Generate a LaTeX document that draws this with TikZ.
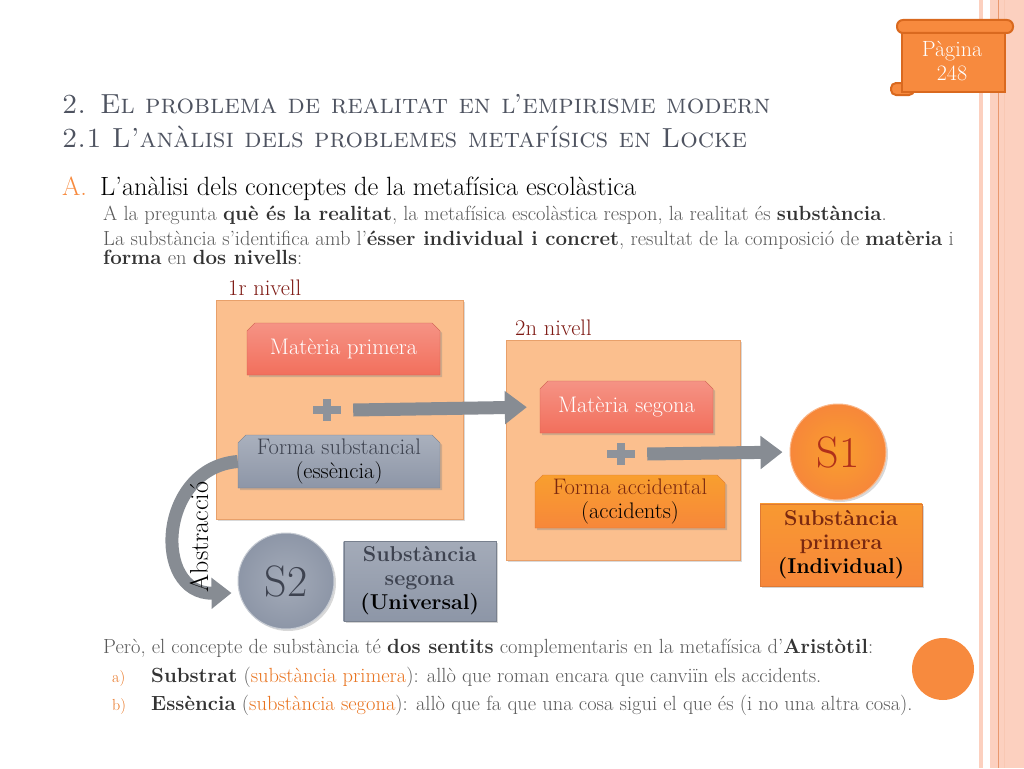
\documentclass[tikz,border=0pt]{standalone}
\usepackage{tikz}
\usetikzlibrary{positioning, shapes.misc, shadows, arrows.meta}

\definecolor{accent}{HTML}{F78A3E}
\definecolor{scrolledge}{HTML}{D9691F}
\definecolor{titlegray}{HTML}{4E5360}
\definecolor{bodygray}{HTML}{595959}
\definecolor{darktext}{HTML}{333333}
\definecolor{accenttext}{HTML}{E8731F}
\definecolor{peach}{HTML}{FBBF8E}
\definecolor{peachedge}{HTML}{E8A06A}
\definecolor{coral}{HTML}{F26F5C}
\definecolor{slate}{HTML}{8D96A7}
\definecolor{slatetext}{HTML}{3E4350}
\definecolor{orangebox}{HTML}{F7873A}
\definecolor{rust}{HTML}{7A2810}
\definecolor{sonetext}{HTML}{B0301A}
\definecolor{crossgray}{HTML}{8E939B}
\definecolor{arrowgray}{HTML}{878C93}
\definecolor{levelred}{HTML}{7E1A14}
\definecolor{stripe}{HTML}{FCD0BF}
\definecolor{stripeline}{HTML}{E9986E}

\newcommand{\fsz}[2]{\fontsize{#1}{#2}\selectfont}
\newcommand{\emb}[1]{{\bfseries\color{darktext}#1}}

\tikzset{
  scroll/.style={fill=accent, draw=scrolledge, line width=2pt},
  pagetext/.style={text=white, align=center, font=\fsz{22}{24}},
  titletext/.style={text=titlegray, inner sep=0pt, font=\fsz{27.6}{32}\scshape},
  headtext/.style={text=black, inner sep=0pt, font=\fsz{26.4}{28}},
  bodytext/.style={text=bodygray, inner sep=0pt, font=\fsz{20.5}{22}},
  listmark/.style={text=accenttext, inner sep=0pt, font=\fsz{16}{18}},
  levelbox/.style={rectangle, fill=peach, draw=peachedge, line width=0.6pt,
    drop shadow={shadow xshift=2pt, shadow yshift=-2pt, opacity=0.3}},
  levellabel/.style={text=levelred, inner sep=0pt, font=\fsz{22.5}{24}},
  chambox/.style={chamfered rectangle, chamfered rectangle corners={north west, north east},
    chamfered rectangle xsep=5pt, inner sep=0pt, align=center, font=\fsz{22.5}{24},
    drop shadow={shadow xshift=2pt, shadow yshift=-2pt, opacity=0.35}},
  materia/.style={chambox, top color=coral!75!white, bottom color=coral, draw=coral!85!black, text=white},
  formasub/.style={chambox, top color=slate!75!white, bottom color=slate, draw=slate!85!black, text=slatetext},
  formaacc/.style={chambox, top color=orangebox!80!yellow, bottom color=orangebox, draw=orangebox!90!black, text=rust},
  plussign/.style={minimum width=28pt, minimum height=22pt, inner sep=0pt, path picture={
    \fill[crossgray] ([xshift=-14pt,yshift=-4pt]path picture bounding box.center) rectangle ([xshift=14pt,yshift=4pt]path picture bounding box.center);
    \fill[crossgray] ([xshift=-4pt,yshift=-11pt]path picture bounding box.center) rectangle ([xshift=4pt,yshift=11pt]path picture bounding box.center);}},
  fatarrow/.style={draw=arrowgray, line width=13pt, -{Triangle[length=22pt, width=32pt]}},
  curvearrow/.style={draw=arrowgray, line width=13pt, -{Triangle[length=20pt, width=30pt]}},
  abstext/.style={text=black, inner sep=0pt, font=\fsz{26}{28}},
  sone/.style={circle, minimum size=96pt, inner sep=0pt, inner color=orangebox!80!yellow, outer color=orangebox,
    draw=orangebox!60!white, line width=1pt, text=sonetext, font=\fsz{44}{46},
    drop shadow={shadow xshift=2pt, shadow yshift=-2pt, opacity=0.3}},
  stwo/.style={circle, minimum size=96pt, inner sep=0pt, inner color=slate!80!white, outer color=slate,
    draw=slate!50!white, line width=1pt, text=slatetext, font=\fsz{44}{46},
    drop shadow={shadow xshift=2pt, shadow yshift=-2pt, opacity=0.3}},
  subsbox/.style={rectangle, inner sep=0pt, align=center, font=\fsz{21.5}{24}\bfseries,
    drop shadow={shadow xshift=2pt, shadow yshift=-2pt, opacity=0.35}},
  dotcircle/.style={circle, fill=accent, minimum size=62pt, inner sep=0pt}
}

\begin{document}
\begin{tikzpicture}[x=1pt, y=-1pt]
\useasboundingbox (0,0) rectangle (1024,768);

% right margin stripes
\fill[stripe] (979,0) rectangle (983,768);
\fill[stripe] (990,0) rectangle (1024,768);
\draw[stripeline, line width=1.5pt] (998.5,0) -- (998.5,768);
\draw[stripe!85!stripeline, line width=0.8pt] (1004,0) -- (1004,768);

% page scroll
\draw[scroll, rounded corners=5pt] (891,83) rectangle (914,95);
\draw[scroll] (902,27) rectangle (1005,92);
\draw[scroll, rounded corners=6pt] (897,20) rectangle (1013,33);
\node[pagetext] (page) at (952,61) {Pàgina\\248};

% title
\node[titletext, anchor=base west] (title1) at (62,113) {2. El problema de realitat en l’empirisme modern};
\node[titletext, anchor=base west] (title2) at (62,147) {2.1 L'anàlisi dels problemes metafísics en Locke};

% text above the diagram
\node[headtext, text=accent, anchor=base west] (markA) at (62,195) {A.};
\node[headtext, anchor=base west] (head) at (100,195) {L’anàlisi dels conceptes de la metafísica escolàstica};
\node[bodytext, anchor=base west] (line1) at (103,220) {A la pregunta \emb{què és la realitat}, la metafísica escolàstica respon, la realitat és \emb{substància}.};
\node[bodytext, anchor=base west] (line2) at (103,245) {La substància s’identifica amb l’\emb{ésser individual i concret}, resultat de la composició de \emb{matèria} i};
\node[bodytext, anchor=base west] (line3) at (103,264) {\emb{forma} en \emb{dos nivells}:};

% first level
\node[levelbox, minimum width=247pt, minimum height=219pt] (lvl1) at (339.5,409.5) {};
\node[levellabel, anchor=base west] (lab1) at (228,295) {1r nivell};
\node[materia, minimum width=193pt, minimum height=52pt] (mp) at (343.5,349) {Matèria primera};
\node[plussign] (p1) at (327,410) {};
\node[formasub, minimum width=202pt, minimum height=53pt] (fs) at (339,461.5) {Forma substancial\\{\color{black}(essència)}};

% second level
\node[levelbox, minimum width=234pt, minimum height=220pt] (lvl2) at (623,450) {};
\node[levellabel, anchor=base west] (lab2) at (515,335) {2n nivell};
\node[materia, minimum width=173pt, minimum height=52pt] (ms) at (626.5,407) {Matèria segona};
\node[plussign] (p2) at (621,454) {};
\node[formaacc, minimum width=190pt, minimum height=53pt] (fa) at (630,501.5) {Forma accidental\\{\color{black}(accidents)}};

% substances
\node[sone] (s1) at (838,452) {S1};
\node[subsbox, below=3pt of s1, xshift=3pt, minimum width=162pt, minimum height=82pt,
  top color=orangebox!85!yellow, bottom color=orangebox, draw=orangebox!90!black, text=rust] (sp) {Substància\\primera\\{\color{black}(Individual)}};
\node[stwo] (s2) at (286,581) {S2};
\node[subsbox, right=9pt of s2, minimum width=152pt, minimum height=80pt,
  top color=slate!80!white, bottom color=slate, draw=slate!85!black, text=slatetext] (ss) {Substància\\segona\\{\color{black}(Universal)}};

% arrows
\draw[fatarrow, shorten >=13pt] ([xshift=12pt]p1.east) -- (ms.west);
\draw[fatarrow, shorten >=7pt] ([xshift=12pt]p2.east) -- (s1.west);
\draw[curvearrow] (fs.west) .. controls (158,468) and (152,594) .. ([xshift=-6pt,yshift=-12pt]s2.west);
\node[abstext, rotate=90] (abs) at (199,537) {Abstracció};

% text below the diagram
\node[bodytext, anchor=base west] (pero) at (103,653) {Però, el concepte de substància té \emb{dos sentits} complementaris en la metafísica d'\emb{Aristòtil}:};
\node[listmark, anchor=base west] (ma) at (112,682) {a)};
\node[bodytext, anchor=base west] (itema) at (151,682) {\emb{Substrat} ({\color{accenttext}substància primera}): allò que roman encara que canviïn els accidents.};
\node[listmark, anchor=base west] (mb) at (112,710) {b)};
\node[bodytext, anchor=base west] (itemb) at (151,710) {\emb{Essència} ({\color{accenttext}substància segona}): allò que fa que una cosa sigui el que és (i no una altra cosa).};
\node[dotcircle] (deco) at (943,669) {};

\end{tikzpicture}
\end{document}
